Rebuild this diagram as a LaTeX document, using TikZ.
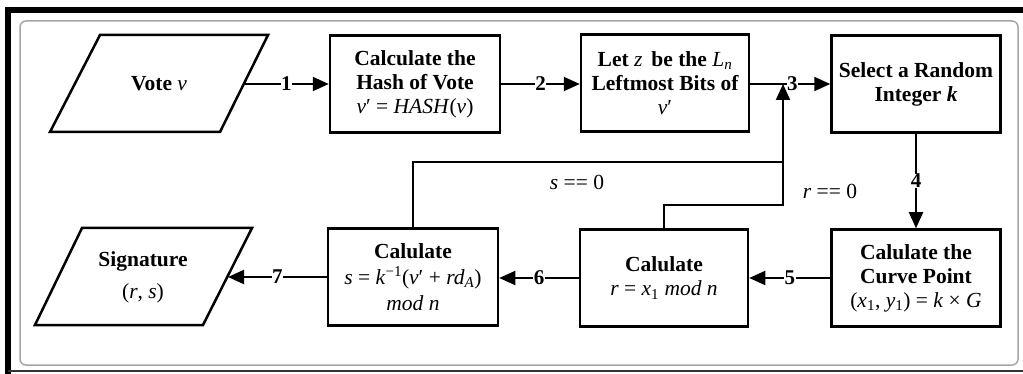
\documentclass[tikz,border=0pt]{standalone}
\usepackage{fontspec}
\setmainfont{Liberation Serif}
\usetikzlibrary{arrows.meta}
\newcommand{\mi}[1]{\textit{#1}}
\newcommand{\mt}[1]{{\mdseries #1}}
\begin{document}
\begin{tikzpicture}[x=1pt,y=-1pt,
  box/.style={draw, line width=2.5pt, align=center, inner sep=0pt,
    minimum width=170pt, minimum height=97pt,
    font=\fontsize{21.5}{24}\selectfont\bfseries},
  para/.style={draw, line width=2.5pt, line join=miter},
  txt/.style={align=center, inner sep=0pt, font=\fontsize{21.5}{24}\selectfont\bfseries},
  wire/.style={line width=2pt},
  conn/.style={line width=2pt, -{Triangle[length=16pt,width=14pt]}},
  lab/.style={fill=white, inner sep=0.5pt, font=\fontsize{21}{21}\selectfont\bfseries},
  cond/.style={inner sep=0pt, font=\fontsize{21.5}{24}\selectfont}]
\useasboundingbox (0,0) rectangle (1023,374);
% frames
\draw[line width=6pt] (1030,10) -- (8,10) -- (8,380);
\draw[line width=1.5pt, black!80] (8,371) -- (1030,371);
\draw[line width=1.5pt, gray!70, rounded corners=6pt] (20,21) rectangle (1018,365);
% input / output parallelograms
\draw[para] (100,35) -- (268,35) -- (220,132) -- (50,132) -- cycle;
\node[txt] (vote) at (159,84) {Vote \mt{\mi{v}}};
\coordinate (voteR) at (244,84);
\draw[para] (82,228) -- (252,228) -- (203,325) -- (35,325) -- cycle;
\node[txt] (sig) at (143,277) {Signature\\[8pt]\mt{(\mi{r}, \mi{s})}};
\coordinate (sigR) at (228,277);
% boxes
\node[box] (hash) at (415,84) {Calculate the\\Hash of Vote\\\mt{\mi{v}′ = \mi{HASH}(\mi{v})}};
\node[box, minimum width=168pt] (letz) at (665,83) {Let \mt{\mi{z}}\, be the \mt{\mi{L}\textsubscript{\mi{n}}}\\Leftmost Bits of\\\mt{\mi{v}′}};
\node[box, minimum width=169pt] (select) at (916,84) {Select a Random\\Integer \mi{k}};
\node[box, minimum width=169pt] (curve) at (916,278) {Calulate the\\Curve Point\\\mt{(\mi{x}\textsubscript{1}, \mi{y}\textsubscript{1}) = \mi{k} × \mi{G}}};
\node[box, minimum width=168pt] (rbox) at (664,278) {Calulate\\\mt{\mi{r} = \mi{x}\textsubscript{1} \mi{mod n}}};
\node[box, minimum height=97pt] (sbox) at (413,277) {Calulate\\[2pt]\mt{\mi{s} = \mi{k}\textsuperscript{−1}(\mi{v}′ + \mi{rd}\textsubscript{\mi{A}})}\\[2pt]\mt{\mi{mod n}}};
% connectors
\draw[conn] (voteR) -- node[lab]{1} (hash.west);
\draw[conn] (hash.east) -- node[lab]{2} (letz.west |- hash.east);
\draw[conn] (letz.east |- select.west) -- node[lab, xshift=2pt]{3} (select.west);
\draw[conn] (select.south) -- node[lab]{4} (curve.north);
\draw[conn] (curve.west) -- node[lab]{5} (rbox.east);
\draw[conn] (rbox.west) -- node[lab]{6} (sbox.east |- rbox.west);
\draw[conn] (sbox.west |- sigR) -- node[lab]{7} (sigR);
% feedback loops
\coordinate (merge) at (783,84);
\draw[wire] (sbox.north) |- (783,162);
\draw[conn] (rbox.north) |- (783,205) -- (merge);
\node[cond] (s0) at (577,182) {\mi{s} == 0};
\node[cond] (r0) at (830,191) {\mi{r} == 0};
\end{tikzpicture}
\end{document}
